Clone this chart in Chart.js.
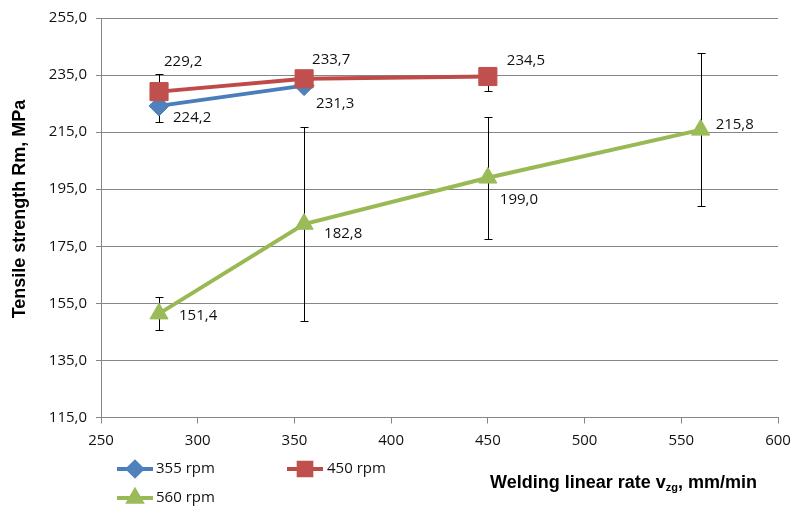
<!DOCTYPE html>
<html>
<head>
<meta charset="utf-8">
<script src="https://cdn.jsdelivr.net/npm/chart.js@4/dist/chart.umd.min.js"></script>
<style>
  html, body { margin: 0; padding: 0; background: #ffffff; }
  #wrap { width: 806px; height: 506px; position: relative; }
</style>
</head>
<body>
<div id="wrap"><canvas id="c" width="806" height="506"></canvas></div>
<script>
// Tensile strength vs welding linear rate, three spindle speeds
const seriesNames = ['355 rpm', '450 rpm', '560 rpm'];

const rate355 = [280, 355];
const strength355 = [224.2, 231.3];
const errPlus355 = [5.7, 1.5];
const errMinus355 = [5.7, 1.5];

const rate450 = [280, 355, 450];
const strength450 = [229.2, 233.7, 234.5];
const errPlus450 = [6.2, 1.5, 0.5];
const errMinus450 = [6.2, 1.5, 5.0];

const rate560 = [280, 355, 450, 560];
const strength560 = [151.4, 182.8, 199.0, 215.8];
const errPlus560 = [6.0, 33.9, 21.2, 26.9];
const errMinus560 = [5.9, 33.9, 21.5, 26.7];

const xTicks = [250, 300, 350, 400, 450, 500, 550, 600];
const yTicks = [115, 135, 155, 175, 195, 215, 235, 255];

// placement of the value labels relative to each point [dx, dy]
const labelOffsets = [
  [[14, 12], [12, 18]],
  [[5, -30], [8, -19], [19, -16]],
  [[20, 2], [20, 10], [12, 22], [15, -5]]
];

const FONT_TXT = '"Open Sans", "Noto Sans", sans-serif';
const FONT_TITLE = '"Liberation Sans", Arial, sans-serif';
const fmt = v => v.toFixed(1).replace('.', ',');
const pts = (xs, ys) => xs.map((x, i) => ({ x: x, y: ys[i] }));

const styles = [
  { line: '#4a7ebb', fill: '#4f81bd', shape: 'rectRot', r: 10 },
  { line: '#be4b48', fill: '#c0504d', shape: 'rect', r: 12.8 },
  { line: '#98b954', fill: '#9bbb59', shape: 'triangle', r: 10.5 }
];

const errors = [
  [errPlus355, errMinus355],
  [errPlus450, errMinus450],
  [errPlus560, errMinus560]
];

const datasets = [
  pts(rate355, strength355),
  pts(rate450, strength450),
  pts(rate560, strength560)
].map((d, i) => ({
  label: seriesNames[i],
  data: d,
  borderColor: styles[i].line,
  backgroundColor: styles[i].fill,
  pointBackgroundColor: styles[i].fill,
  pointBorderColor: styles[i].fill,
  pointBorderWidth: 1,
  pointStyle: styles[i].shape,
  pointRadius: styles[i].r,
  pointHoverRadius: styles[i].r,
  borderWidth: 4,
  tension: 0,
  fill: false,
  // red series sits over blue, green at the bottom
  order: [1, 0, 2][i]
}));

const errorBars = {
  id: 'errorBars',
  beforeDatasetsDraw(chart) {
    const ctx = chart.ctx, ys = chart.scales.y;
    ctx.save();
    ctx.strokeStyle = '#000000';
    ctx.lineWidth = 1;
    chart.data.datasets.forEach((ds, di) => {
      const meta = chart.getDatasetMeta(di);
      ds.data.forEach((p, i) => {
        const x = Math.round(meta.data[i].x) + 0.5;
        const yTop = Math.round(ys.getPixelForValue(p.y + errors[di][0][i])) + 0.5;
        const yBot = Math.round(ys.getPixelForValue(p.y - errors[di][1][i])) + 0.5;
        ctx.beginPath();
        ctx.moveTo(x, yTop); ctx.lineTo(x, yBot);
        ctx.moveTo(x - 4, yTop); ctx.lineTo(x + 4, yTop);
        ctx.moveTo(x - 4, yBot); ctx.lineTo(x + 4, yBot);
        ctx.stroke();
      });
    });
    ctx.restore();
  }
};

const valueLabels = {
  id: 'valueLabels',
  afterDatasetsDraw(chart) {
    const ctx = chart.ctx;
    ctx.save();
    ctx.font = '15px ' + FONT_TXT;
    ctx.fillStyle = '#111111';
    ctx.textAlign = 'left';
    ctx.textBaseline = 'middle';
    chart.data.datasets.forEach((ds, di) => {
      const meta = chart.getDatasetMeta(di);
      ds.data.forEach((p, i) => {
        const off = labelOffsets[di][i];
        ctx.fillText(fmt(p.y), meta.data[i].x + off[0], meta.data[i].y + off[1]);
      });
    });
    ctx.restore();
  }
};

function drawMarker(ctx, st, x, y, scale) {
  Chart.helpers.drawPoint(ctx, {
    pointStyle: st.shape, radius: st.r * scale, borderWidth: 1, rotation: 0
  }, x, y);
}

const legendAndTitles = {
  id: 'legendAndTitles',
  afterDraw(chart) {
    const ctx = chart.ctx;
    ctx.save();
    // legend
    const items = [
      { x: 117, y: 469, tx: 156 },
      { x: 287, y: 469, tx: 327 },
      { x: 117, y: 498, tx: 156 }
    ];
    items.forEach((it, i) => {
      const st = styles[i];
      ctx.strokeStyle = st.line;
      ctx.lineWidth = 4;
      ctx.beginPath();
      ctx.moveTo(it.x, it.y); ctx.lineTo(it.x + 36, it.y);
      ctx.stroke();
      ctx.fillStyle = st.fill;
      ctx.strokeStyle = st.fill;
      drawMarker(ctx, st, it.x + 18, it.y, 0.7);
      ctx.fillStyle = '#111111';
      ctx.font = '15px ' + FONT_TXT;
      ctx.textAlign = 'left';
      ctx.textBaseline = 'middle';
      ctx.fillText(seriesNames[i], it.tx, it.y);
    });

    // axis titles
    ctx.fillStyle = '#000000';
    ctx.font = 'bold 18px ' + FONT_TITLE;
    ctx.textBaseline = 'middle';
    ctx.textAlign = 'left';
    const x0 = 490, yb = 483;
    const p1 = 'Welding linear rate v';
    ctx.fillText(p1, x0, yb);
    let cx = x0 + ctx.measureText(p1).width;
    ctx.font = 'bold 11px ' + FONT_TITLE;
    ctx.fillText('zg', cx, yb + 5);
    cx += ctx.measureText('zg').width;
    ctx.font = 'bold 18px ' + FONT_TITLE;
    ctx.fillText(', mm/min', cx, yb);

    ctx.translate(20, 209);
    ctx.rotate(-Math.PI / 2);
    ctx.textAlign = 'center';
    ctx.fillText('Tensile strength Rm, MPa', 0, 0);
    ctx.restore();
  }
};

const axisGray = '#868686';

new Chart(document.getElementById('c'), {
  type: 'line',
  data: { datasets: datasets },
  options: {
    responsive: false,
    animation: false,
    devicePixelRatio: 1,
    layout: { padding: { top: 17, right: 28, bottom: 0, left: 0 } },
    plugins: { legend: { display: false }, tooltip: { enabled: false } },
    scales: {
      x: {
        type: 'linear',
        min: xTicks[0],
        max: xTicks[xTicks.length - 1],
        afterBuildTicks(s) { s.ticks = xTicks.map(v => ({ value: v })); },
        ticks: {
          color: '#111111',
          font: { family: FONT_TXT, size: 15 },
          padding: 8,
          maxRotation: 0
        },
        grid: { drawOnChartArea: false, drawTicks: true, tickLength: 6, color: axisGray },
        border: { color: axisGray, width: 1 },
        afterFit(s) { s.height = 88.5; }
      },
      y: {
        type: 'linear',
        min: yTicks[0],
        max: yTicks[yTicks.length - 1],
        afterBuildTicks(s) { s.ticks = yTicks.map(v => ({ value: v })); },
        ticks: {
          color: '#111111',
          font: { family: FONT_TXT, size: 15 },
          padding: 9,
          callback: v => fmt(v)
        },
        grid: { color: axisGray, tickLength: 5 },
        border: { color: axisGray, width: 1 },
        afterFit(s) { s.width = 101; }
      }
    }
  },
  plugins: [errorBars, valueLabels, legendAndTitles]
});
</script>
</body>
</html>
